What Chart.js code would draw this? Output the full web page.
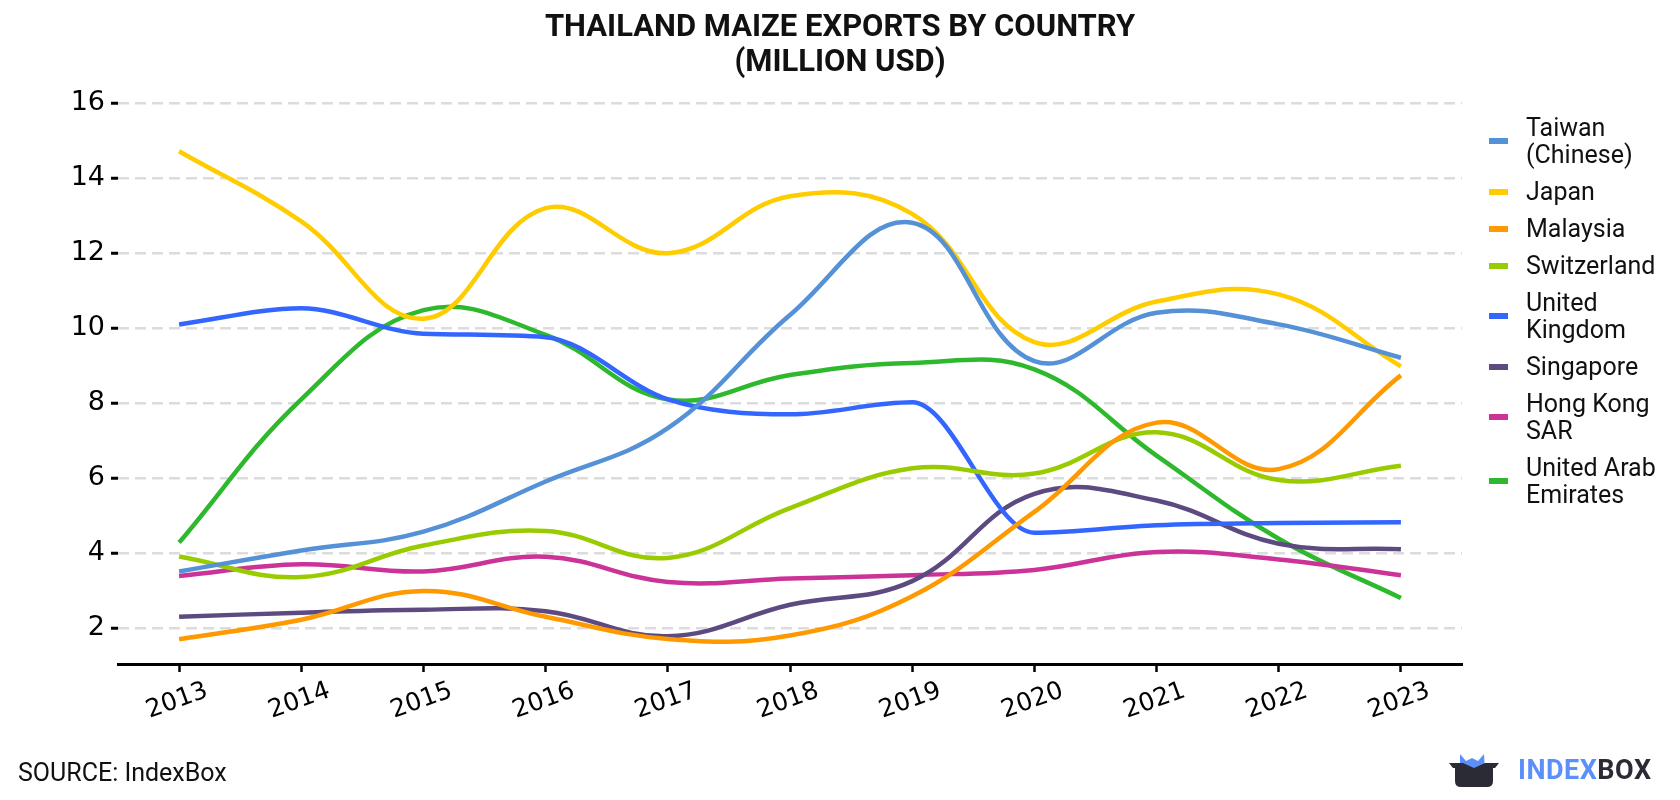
<!DOCTYPE html>
<html>
<head>
<meta charset="utf-8">
<script src="https://cdn.jsdelivr.net/npm/chart.js@4"></script>
<style>
  html, body { margin:0; padding:0; background:#fff; }
  #wrap { position:relative; width:1680px; height:800px; overflow:hidden; }
  #title { position:absolute; left:0; top:8px; width:1680px; text-align:center;
    font-family:Roboto, sans-serif; font-weight:700; font-size:31px; line-height:35px; color:#111; }
  #legend { position:absolute; left:1489px; top:114px; font-family:Roboto, sans-serif; font-size:25px; line-height:27px; color:#111; }
  .li { display:flex; align-items:center; margin-bottom:10px; }
  .sw { width:19px; height:6px; margin-right:18px; flex:none; }
  #source { position:absolute; left:18px; top:758px; font-family:Roboto, sans-serif; font-size:25px; color:#111; }
  #logo { position:absolute; left:1449px; top:752px; display:flex; align-items:center; }
  #logotext { font-family:Roboto, sans-serif; font-weight:700; font-size:27px; margin-left:19px; letter-spacing:0.5px; }
</style>
</head>
<body>
<div id="wrap">
  <canvas id="c" width="1680" height="800"></canvas>
  <div id="title">THAILAND MAIZE EXPORTS BY COUNTRY<br>(MILLION USD)</div>
  <div id="legend"></div>
  <div id="source">SOURCE: IndexBox</div>
  <div id="logo">
    <svg width="50" height="36" viewBox="0 0 50 36">
      <path d="M11 2 L17 9 L23 6 L29 9 L35 2 L36 20 L11 20 Z" fill="#5b8ff9"/>
      <path d="M0 11 L50 11 L46 16 L44 16 L44 29 Q44 35 38 35 L12 35 Q6 35 6 29 L6 16 L4 16 Z" fill="#2b2b36"/>
      <path d="M14 11 L25 16 L36 11 Z" fill="#5b8ff9"/>
    </svg>
    <span id="logotext"><span style="color:#5b8ff9">INDEX</span><span style="color:#2b2b36">BOX</span></span>
  </div>
</div>
<script>
const years = ['2013','2014','2015','2016','2017','2018','2019','2020','2021','2022','2023'];
const yTickValues = [2,4,6,8,10,12,14,16];

const taiwan      = [3.51, 4.07, 4.57, 5.91, 7.33, 10.35, 12.81, 9.12, 10.41, 10.1, 9.21];
const japan       = [14.72, 12.85, 10.25, 13.2, 12.0, 13.52, 13.05, 9.63, 10.71, 10.9, 8.98];
const malaysia    = [1.7, 2.22, 2.99, 2.3, 1.71, 1.8, 2.85, 5.1, 7.48, 6.24, 8.74];
const switzerland = [3.91, 3.36, 4.2, 4.59, 3.87, 5.2, 6.26, 6.12, 7.22, 5.95, 6.33];
const uk          = [10.1, 10.53, 9.85, 9.76, 8.1, 7.7, 8.02, 4.54, 4.74, 4.8, 4.82];
const singapore   = [2.3, 2.41, 2.49, 2.45, 1.78, 2.62, 3.25, 5.58, 5.4, 4.25, 4.1];
const hongkong    = [3.39, 3.7, 3.51, 3.9, 3.23, 3.32, 3.41, 3.55, 4.03, 3.83, 3.41];
const uae         = [4.28, 8.1, 10.48, 9.82, 8.1, 8.75, 9.07, 8.9, 6.6, 4.38, 2.8];

const seriesNames = [['Taiwan','(Chinese)'], ['Japan'], ['Malaysia'], ['Switzerland'], ['United','Kingdom'], ['Singapore'], ['Hong Kong','SAR'], ['United Arab','Emirates']];
const seriesData = [taiwan, japan, malaysia, switzerland, uk, singapore, hongkong, uae];
const seriesColors = ['#5591d6', '#ffcc00', '#ff9900', '#99cc00', '#3366ff', '#5c4a80', '#cc3399', '#2eb82e'];
const seriesMode = ['default', 'default', 'default', 'default', 'monotone', 'default', 'default', 'default'];

const datasets = seriesData.map((d, i) => ({
  label: seriesNames[i].join(' '),
  data: d,
  borderColor: seriesColors[i],
  backgroundColor: seriesColors[i],
  borderWidth: 4.5,
  pointRadius: 0,
  pointHoverRadius: 0,
  tension: 0.4,
  cubicInterpolationMode: seriesMode[i],
  fill: false
}));

const leg = document.getElementById('legend');
seriesNames.forEach((n, i) => {
  const row = document.createElement('div');
  row.className = 'li';
  const sw = document.createElement('div');
  sw.className = 'sw';
  sw.style.background = seriesColors[i];
  const tx = document.createElement('div');
  tx.innerHTML = n.join('<br>');
  row.appendChild(sw); row.appendChild(tx);
  leg.appendChild(row);
});

new Chart(document.getElementById('c'), {
  type: 'line',
  data: { labels: years, datasets },
  options: {
    responsive: false,
    devicePixelRatio: 1,
    animation: false,
    layout: { padding: { top: 92, right: 218, left: 0, bottom: 0 } },
    plugins: { legend: { display: false }, title: { display: false }, tooltip: { enabled: false } },
    scales: {
      x: {
        type: 'category',
        offset: true,
        grid: { display: true, drawOnChartArea: false, drawTicks: true, tickLength: 8, tickColor: '#000', tickWidth: 2.5 },
        border: { display: true, color: '#000', width: 3 },
        ticks: { color: '#000', font: { family: 'DejaVu Sans', size: 25 }, minRotation: 20, maxRotation: 20, padding: 4, labelOffset: 28, autoSkip: false },
        afterFit: (s) => { s.height = 136; }
      },
      y: {
        min: 1.04,
        max: 16.3,
        afterBuildTicks: (s) => { s.ticks = yTickValues.map(v => ({ value: v })); },
        grid: { color: '#dcdcdc', lineWidth: 2.5, drawTicks: true, tickLength: 7, tickColor: '#000', tickWidth: 3 },
        border: { display: false, dash: [11, 6] },
        ticks: { color: '#000', font: { family: 'DejaVu Sans', size: 27 }, padding: 6 },
        afterFit: (s) => { s.width = 118; }
      }
    }
  }
});
</script>
</body>
</html>
